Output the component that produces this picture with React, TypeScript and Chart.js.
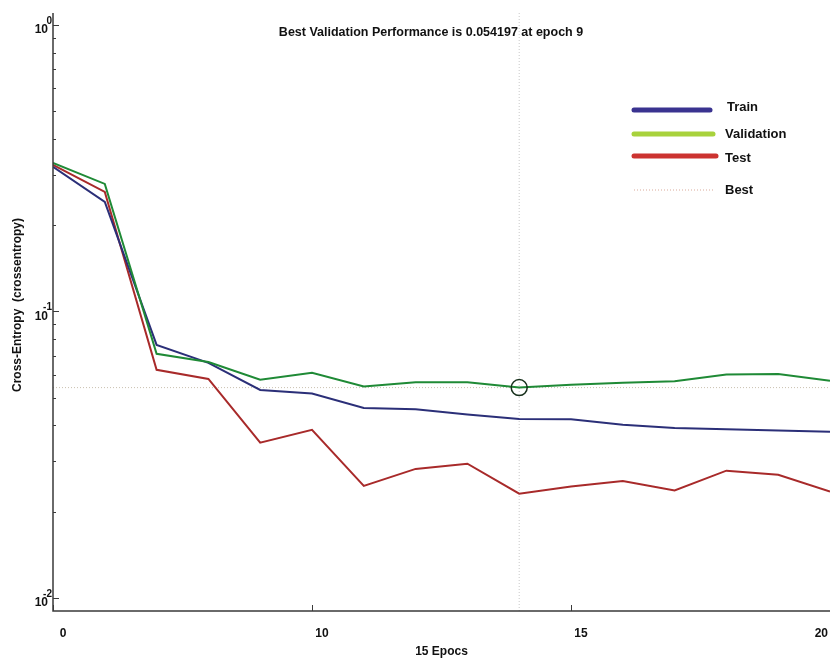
import React, { useEffect, useRef } from "react";
import { Chart, registerables } from "chart.js";

Chart.register(...registerables);

const epochs = [0, 1, 2, 3, 4, 5, 6, 7, 8, 9, 10, 11, 12, 13, 14, 15];
const trainLoss = [0.3194, 0.2411, 0.0764, 0.0661, 0.0532, 0.0517, 0.046, 0.0455, 0.0437, 0.0421, 0.042, 0.0402, 0.0392, 0.0388, 0.0384, 0.038];
const validationLoss = [0.33, 0.2786, 0.0711, 0.0666, 0.0577, 0.061, 0.0547, 0.0566, 0.0566, 0.054197, 0.0554, 0.0564, 0.057, 0.0602, 0.0604, 0.0573];
const testLoss = [0.3246, 0.2613, 0.0625, 0.0581, 0.0348, 0.0386, 0.0246, 0.0282, 0.0294, 0.0231, 0.0245, 0.0256, 0.0237, 0.0278, 0.0269, 0.0235];
const bestEpoch = 9;
const bestValue = 0.054197;
const xTickValues = [0, 5, 10, 15];
const xTickLabels = ["0", "10", "15", "20"];
const yMajorExponents = [0, -1, -2];
const legendLabels = ["Train", "Validation", "Test", "Best"];
const titleText = "Best Validation Performance is 0.054197 at epoch 9";
const xTitle = "15 Epocs";
const yTitle = "Cross-Entropy  (crossentropy)";

const FONT = 'Arial, "Liberation Sans", Helvetica, sans-serif';

const pts = (vals: number[]) => vals.map((v, i) => ({ x: epochs[i], y: v }));

const decorPlugin = {
  id: "decor",
  afterDraw(chart: any) {
    const ctx = chart.ctx as CanvasRenderingContext2D;
    const xs = chart.scales.x;
    const ys = chart.scales.y;
    const { left, right, top, bottom } = chart.chartArea;
    ctx.save();
    // axes
    ctx.strokeStyle = "#3a3a3a";
    ctx.lineWidth = 1.5;
    ctx.beginPath();
    ctx.moveTo(left, top);
    ctx.lineTo(left, bottom);
    ctx.lineTo(right, bottom);
    ctx.stroke();
    // y ticks
    ctx.lineWidth = 1;
    for (let d = -2; d <= 0; d++) {
      for (let m = 1; m <= 9; m++) {
        const v = m * Math.pow(10, d);
        if (v < ys.min || v > ys.max) continue;
        const y = Math.round(ys.getPixelForValue(v)) + 0.5;
        const len = m === 1 ? 6 : 3;
        ctx.beginPath();
        ctx.moveTo(left, y);
        ctx.lineTo(left + len, y);
        ctx.stroke();
      }
    }
    // x ticks
    xTickValues.forEach((v) => {
      const x = Math.round(xs.getPixelForValue(v)) + 0.5;
      ctx.beginPath();
      ctx.moveTo(x, bottom);
      ctx.lineTo(x, bottom - 6);
      ctx.stroke();
    });
    // y labels
    ctx.fillStyle = "#111";
    yMajorExponents.forEach((e) => {
      const y = ys.getPixelForValue(Math.pow(10, e));
      ctx.font = `bold 12px ${FONT}`;
      ctx.textAlign = "right";
      ctx.textBaseline = "middle";
      ctx.fillText("10", left - 5, y + 5);
      ctx.font = `bold 10px ${FONT}`;
      ctx.fillText(String(e), left - 1, y - 4);
    });
    // x labels
    ctx.font = `bold 12px ${FONT}`;
    ctx.textBaseline = "middle";
    xTickValues.forEach((v, i) => {
      const x = xs.getPixelForValue(v);
      if (i === xTickValues.length - 1) {
        ctx.textAlign = "right";
        ctx.fillText(xTickLabels[i], x - 2, 634);
      } else {
        ctx.textAlign = "center";
        ctx.fillText(xTickLabels[i], x + 10, 634);
      }
    });
    // titles
    ctx.textAlign = "center";
    ctx.font = `bold 12.5px ${FONT}`;
    ctx.fillText(titleText, 431, 33);
    ctx.font = `bold 12px ${FONT}`;
    ctx.fillText(xTitle, (left + right) / 2, 652);
    ctx.save();
    ctx.translate(18, 305);
    ctx.rotate(-Math.PI / 2);
    ctx.fillText(yTitle, 0, 0);
    ctx.restore();
    // legend
    const legendColors = ["#3a3390", "#a8d23c", "#cc3330", "#d9a99a"];
    const legendY = [110, 134, 156, 190];
    const legendEnd = [710, 713, 716, 714];
    const labelX = [727, 725, 725, 725];
    const labelY = [107, 134, 158, 190];
    legendLabels.forEach((lab, i) => {
      ctx.beginPath();
      ctx.strokeStyle = legendColors[i];
      if (i < 3) {
        ctx.lineWidth = 5;
        ctx.lineCap = "round";
        ctx.setLineDash([]);
      } else {
        ctx.lineWidth = 1;
        ctx.lineCap = "butt";
        ctx.setLineDash([1, 2]);
      }
      ctx.moveTo(634, legendY[i]);
      ctx.lineTo(legendEnd[i], legendY[i]);
      ctx.stroke();
      ctx.setLineDash([]);
      ctx.fillStyle = "#111";
      ctx.textAlign = "left";
      ctx.font = `bold 13px ${FONT}`;
      ctx.fillText(lab, labelX[i], labelY[i]);
    });
    ctx.restore();
  },
};

export default function App() {
  const ref = useRef<HTMLCanvasElement | null>(null);
  useEffect(() => {
    document.body.style.margin = "0";
    document.body.style.background = "#fff";
    const canvas = ref.current!;
    const chart = new Chart(canvas, {
      type: "line",
      data: {
        datasets: [
          {
            label: "Best circle",
            data: [{ x: bestEpoch, y: bestValue }],
            showLine: false,
            pointRadius: 8,
            pointHoverRadius: 8,
            pointStyle: "circle",
            pointBorderColor: "#17301c",
            pointBackgroundColor: "rgba(0,0,0,0)",
            pointBorderWidth: 1.5,
            borderColor: "#17301c",
          },
          {
            label: "Validation",
            data: pts(validationLoss),
            borderColor: "#1f8a36",
            borderWidth: 2,
            pointRadius: 0,
          },
          {
            label: "Train",
            data: pts(trainLoss),
            borderColor: "#2b2f78",
            borderWidth: 2,
            pointRadius: 0,
          },
          {
            label: "Test",
            data: pts(testLoss),
            borderColor: "#a82a2a",
            borderWidth: 2,
            pointRadius: 0,
          },
          {
            label: "Best horizontal",
            data: [
              { x: 0, y: bestValue },
              { x: 15, y: bestValue },
            ],
            borderColor: "#c9c0b0",
            borderWidth: 1,
            borderDash: [1, 2],
            pointRadius: 0,
          },
          {
            label: "Best vertical",
            data: [
              { x: bestEpoch, y: 0.009 },
              { x: bestEpoch, y: 1.1 },
            ],
            borderColor: "#c8c8c8",
            borderWidth: 1,
            borderDash: [1, 2],
            pointRadius: 0,
          },
        ],
      },
      options: {
        responsive: false,
        animation: false,
        parsing: false as any,
        layout: { autoPadding: false, padding: { left: 53, top: 13, right: 0, bottom: 48 } },
        plugins: { legend: { display: false }, tooltip: { enabled: false }, title: { display: false } },
        scales: {
          x: { type: "linear", min: 0, max: 15, display: false },
          y: { type: "logarithmic", min: 0.009, max: 1.1, display: false },
        },
      },
      plugins: [decorPlugin],
    });
    return () => chart.destroy();
  }, []);
  return (
    <div style={{ width: 830, height: 659, background: "#fff" }}>
      <canvas ref={ref} width={830} height={659} style={{ display: "block" }} />
    </div>
  );
}
